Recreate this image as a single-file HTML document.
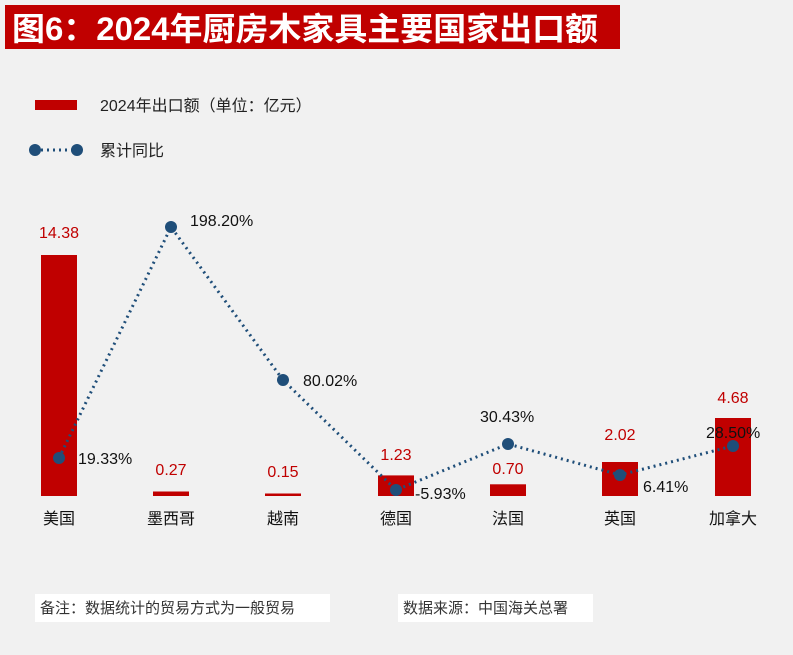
<!DOCTYPE html>
<html><head><meta charset="utf-8"><style>
body{margin:0;background:#f1f1f1;}
svg text{font-family:"Liberation Sans","Noto Sans CJK SC",sans-serif;}
</style></head><body>
<svg width="793" height="650" xmlns="http://www.w3.org/2000/svg">
<rect width="793" height="650" fill="#f1f1f1"/>
<rect x="5" y="5" width="615" height="44" fill="#c00000"/>
<text x="12" y="40" font-size="32" font-weight="bold" fill="#fff" textLength="586" lengthAdjust="spacingAndGlyphs">图6：2024年厨房木家具主要国家出口额</text>
<rect x="35" y="100" width="42" height="10" fill="#c00000"/>
<text x="100" y="111" font-size="16" fill="#222">2024年出口额（单位：亿元）</text>
<line x1="35" y1="150" x2="77" y2="150" stroke="#1f4e79" stroke-width="3" stroke-dasharray="2,4"/>
<circle cx="35" cy="150" r="6" fill="#1f4e79"/><circle cx="77" cy="150" r="6" fill="#1f4e79"/>
<text x="100" y="156" font-size="16" fill="#222">累计同比</text>
<g fill="#c00000">
<rect x="41" y="255" width="36" height="241"/>
<rect x="153" y="491.5" width="36" height="4.5"/>
<rect x="265" y="493.5" width="36" height="2.5"/>
<rect x="378" y="475.4" width="36" height="20.6"/>
<rect x="490" y="484.3" width="36" height="11.7"/>
<rect x="602" y="462" width="36" height="34"/>
<rect x="715" y="418" width="36" height="78"/>
</g>
<g font-size="16" fill="#c00000" text-anchor="middle">
<text x="59" y="238">14.38</text><text x="171" y="475">0.27</text><text x="283" y="477">0.15</text>
<text x="396" y="460">1.23</text><text x="508" y="474">0.70</text><text x="620" y="440">2.02</text><text x="733" y="403">4.68</text>
</g>
<polyline points="59,458 171,227 283,380 396,490 508,444 620,475 733,446" fill="none" stroke="#1f4e79" stroke-width="3" stroke-dasharray="2,4"/>
<g fill="#1f4e79">
<circle cx="59" cy="458" r="6"/><circle cx="171" cy="227" r="6"/><circle cx="283" cy="380" r="6"/><circle cx="396" cy="490" r="6"/><circle cx="508" cy="444" r="6"/><circle cx="620" cy="475" r="6"/><circle cx="733" cy="446" r="6"/>
</g>
<g font-size="16" fill="#111">
<text x="78" y="464">19.33%</text><text x="190" y="226">198.20%</text><text x="303" y="386">80.02%</text>
<text x="415" y="499">-5.93%</text><text x="480" y="422">30.43%</text><text x="643" y="492">6.41%</text><text x="706" y="438">28.50%</text>
</g>
<g font-size="16" fill="#111" text-anchor="middle">
<text x="59" y="524">美国</text><text x="171" y="524">墨西哥</text><text x="283" y="524">越南</text><text x="396" y="524">德国</text>
<text x="508" y="524">法国</text><text x="620" y="524">英国</text><text x="733" y="524">加拿大</text>
</g>
<rect x="35" y="594" width="295" height="28" fill="#fff"/>
<rect x="398" y="594" width="195" height="28" fill="#fff"/>
<text x="40" y="613" font-size="15" fill="#333">备注：数据统计的贸易方式为一般贸易</text>
<text x="403" y="613" font-size="15" fill="#333">数据来源：中国海关总署</text>
</svg>
</body></html>
